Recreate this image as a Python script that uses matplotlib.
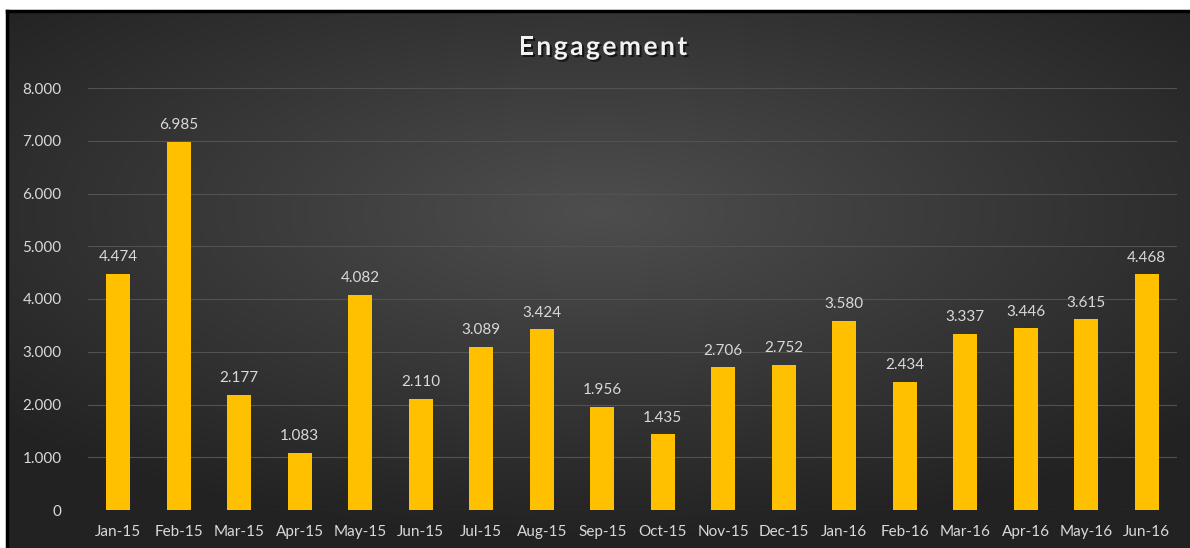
import numpy as np
import matplotlib
matplotlib.use('agg')
import matplotlib.pyplot as plt
import matplotlib.patheffects as pe
from matplotlib.ticker import FuncFormatter

months = ['Jan-15', 'Feb-15', 'Mar-15', 'Apr-15', 'May-15', 'Jun-15', 'Jul-15', 'Aug-15', 'Sep-15',
          'Oct-15', 'Nov-15', 'Dec-15', 'Jan-16', 'Feb-16', 'Mar-16', 'Apr-16', 'May-16', 'Jun-16']
engagement = [4474, 6985, 2177, 1083, 4082, 2110, 3089, 3424, 1956,
              1435, 2706, 2752, 3580, 2434, 3337, 3446, 3615, 4468]
yticks = [0, 1000, 2000, 3000, 4000, 5000, 6000, 7000, 8000]
title = 'Engagement'

def dotted(v, pos=None):
    # thousands separator is a dot, as in the original
    return '{:,.0f}'.format(v).replace(',', '.')

plt.rcParams['font.family'] = ['Lato', 'DejaVu Sans']
txt = '#d9d9d9'

W, H = 1190, 548
fig = plt.figure(figsize=(W / 100, H / 100), dpi=100)
fig.patch.set_facecolor('white')

# chart area background: radial gradient, lighter in the middle
x0 = 7 / W
bg = fig.add_axes([x0, 0, 1 - x0, 1 - 11 / H])
gx, gy = np.meshgrid(np.linspace(-1, 1, 600), np.linspace(-1, 1, 300))
r = np.sqrt(gx ** 2 + ((gy + 0.25) * 1.1) ** 2)
r = np.clip(r / 1.35, 0, 1)
c0, c1 = 0x4e / 255, 0x22 / 255
shade = c0 + (c1 - c0) * r
bg.imshow(np.dstack([shade, shade, shade]), aspect='auto', extent=[0, 1, 0, 1])
bg.set_xticks([])
bg.set_yticks([])
for s in bg.spines.values():
    s.set_color('black')
    s.set_linewidth(2.5)
bg.spines['right'].set_visible(False)
bg.spines['bottom'].set_visible(False)

ax = fig.add_axes([88 / W, 38 / H, (1177 - 88) / W, (510 - 88) / H])
ax.patch.set_alpha(0)
x = np.arange(len(months))
ax.bar(x, engagement, width=0.4, color='#ffc000', zorder=3)
for xi, v in zip(x, engagement):
    ax.annotate(dotted(v), (xi, v), xytext=(0, 7), textcoords='offset points',
                ha='center', va='bottom', color=txt, fontsize=11)

ax.set_xlim(-0.5, len(months) - 0.5)
ax.set_ylim(0, 8000)
ax.set_yticks(yticks)
ax.yaxis.set_major_formatter(FuncFormatter(dotted))
ax.set_xticks(x)
ax.set_xticklabels(months)
ax.tick_params(axis='both', length=0, colors=txt, labelsize=11)
ax.tick_params(axis='y', pad=19)
ax.tick_params(axis='x', pad=11)
ax.grid(axis='y', color='#525252', linewidth=0.8, zorder=0)
for s in ax.spines.values():
    s.set_visible(False)

# title with wide letter spacing, placed one letter at a time
renderer = fig.canvas.get_renderer()
shadow = [pe.withSimplePatchShadow(offset=(1.5, -1.5), shadow_rgbFace='black', alpha=0.6)]
letters = []
for ch in title:
    t = fig.text(0, 1 - 47 / H, ch, ha='left', va='center', color='#f2f2f2',
                 fontsize=19, fontweight='bold', path_effects=shadow)
    letters.append((t, t.get_window_extent(renderer).width))
gap = 2.5
total = sum(w for _, w in letters) + gap * (len(letters) - 1)
xpos = 603 - total / 2
for t, w in letters:
    t.set_x(xpos / W)
    xpos += w + gap

fig.savefig('out.png', dpi=100, facecolor=fig.get_facecolor())
